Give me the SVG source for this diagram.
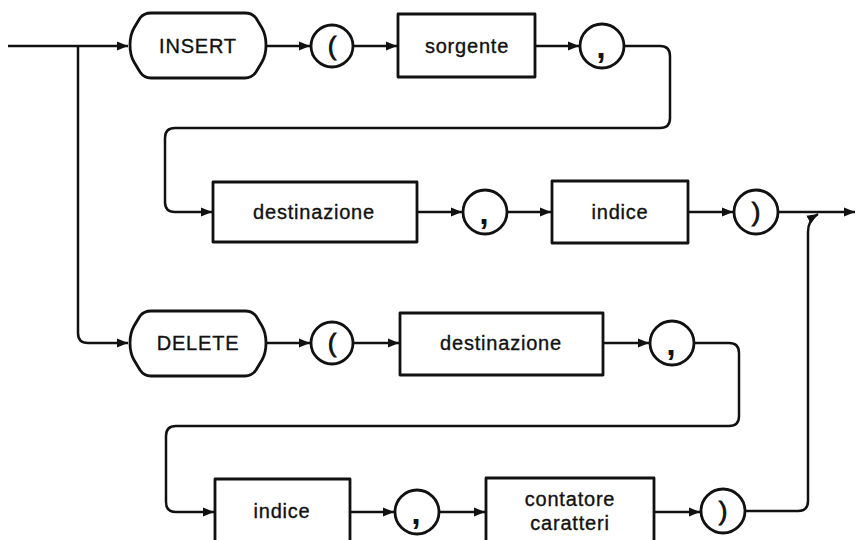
<svg xmlns="http://www.w3.org/2000/svg" width="856" height="540" viewBox="0 0 856 540">
  <style>
    .shape { fill: #fff; stroke: #111; stroke-width: 2.8; stroke-linejoin: round; }
    .wire { fill: none; stroke: #111; stroke-width: 2.5; stroke-linejoin: round; }
    .lbl { font-family: "Liberation Sans", Arial, sans-serif; font-size: 20px; letter-spacing: 0.8px; fill: #111; stroke: #111; stroke-width: 0.35; text-anchor: middle; }
    .sym { font-family: "Liberation Sans", Arial, sans-serif; font-size: 26px; fill: #111; stroke: #111; stroke-width: 0.8; text-anchor: middle; }
    .cm { font-family: "Liberation Sans", Arial, sans-serif; font-size: 34px; font-weight: bold; fill: #111; text-anchor: middle; }
  </style>
  <defs>
    <marker id="arr" markerUnits="userSpaceOnUse" markerWidth="12" markerHeight="10" refX="11" refY="5" orient="auto">
      <path d="M0,0.5 L11,5 L0,9.5 Z" fill="#111"/>
    </marker>
    <path id="pill" d="M21,0 H115 Q122,0 126,5 L132,15 Q136,22 136,32 Q136,42 132,49 L126,59 Q122,65 115,65 H21 Q14,65 10,59 L4,49 Q0,42 0,32 Q0,22 4,15 L10,5 Q14,0 21,0 Z"/>
  </defs>

  <!-- connectors -->
  <g id="connectors">
    <path class="wire" d="M8,46 H128" marker-end="url(#arr)"/>
    <path class="wire" d="M78,46 V333 Q78,343 88,343 H128" marker-end="url(#arr)"/>
    <path class="wire" d="M266,46 H310" marker-end="url(#arr)"/>
    <path class="wire" d="M353,46 H397" marker-end="url(#arr)"/>
    <path class="wire" d="M535,46 H579" marker-end="url(#arr)"/>
    <path class="wire" d="M624,46 H660 Q670,46 670,56 V118 Q670,128 660,128 H175 Q165,128 165,138 V202 Q165,212 175,212 H212" marker-end="url(#arr)"/>
    <path class="wire" d="M417,212 H462" marker-end="url(#arr)"/>
    <path class="wire" d="M507,212 H551" marker-end="url(#arr)"/>
    <path class="wire" d="M688,212 H733" marker-end="url(#arr)"/>
    <path class="wire" d="M778,212 H855" marker-end="url(#arr)"/>
    <path class="wire" d="M745,511 H798 Q808,511 808,501 V232 Q808,220 818,214" marker-end="url(#arr)"/>
    <path class="wire" d="M266,343 H310" marker-end="url(#arr)"/>
    <path class="wire" d="M353,343 H399" marker-end="url(#arr)"/>
    <path class="wire" d="M603,343 H649" marker-end="url(#arr)"/>
    <path class="wire" d="M694,343 H729 Q739,343 739,353 V416 Q739,426 729,426 H176 Q166,426 166,436 V502 Q166,512 176,512 H214" marker-end="url(#arr)"/>
    <path class="wire" d="M350,512 H394" marker-end="url(#arr)"/>
    <path class="wire" d="M439,512 H485" marker-end="url(#arr)"/>
    <path class="wire" d="M654,512 H700" marker-end="url(#arr)"/>
  </g>

  <!-- INSERT branch -->
  <g id="insert">
    <use href="#pill" class="shape" x="130" y="13"/>
    <text class="lbl" x="198" y="53">INSERT</text>
  </g>
  <g id="open1">
    <circle class="shape" cx="332" cy="46" r="21"/>
    <text class="sym" x="332" y="55">(</text>
  </g>
  <g id="sorgente">
    <rect class="shape" x="398" y="14" width="137" height="63"/>
    <text class="lbl" x="467" y="53">sorgente</text>
  </g>
  <g id="comma1">
    <circle class="shape" cx="602" cy="46" r="22"/>
    <text class="cm" x="601" y="58">,</text>
  </g>
  <g id="destinazione1">
    <rect class="shape" x="213" y="182" width="204" height="60"/>
    <text class="lbl" x="314" y="219">destinazione</text>
  </g>
  <g id="comma2">
    <circle class="shape" cx="485" cy="212" r="22"/>
    <text class="cm" x="484" y="224">,</text>
  </g>
  <g id="indice1">
    <rect class="shape" x="552" y="181" width="136" height="62"/>
    <text class="lbl" x="620" y="219">indice</text>
  </g>
  <g id="close1">
    <circle class="shape" cx="756" cy="212" r="22"/>
    <text class="sym" x="756" y="221">)</text>
  </g>

  <!-- DELETE branch -->
  <g id="delete">
    <use href="#pill" class="shape" x="130" y="311"/>
    <text class="lbl" x="198" y="350">DELETE</text>
  </g>
  <g id="open2">
    <circle class="shape" cx="332" cy="343" r="21"/>
    <text class="sym" x="332" y="352">(</text>
  </g>
  <g id="destinazione2">
    <rect class="shape" x="400" y="313" width="203" height="62"/>
    <text class="lbl" x="501" y="350">destinazione</text>
  </g>
  <g id="comma3">
    <circle class="shape" cx="672" cy="343" r="22"/>
    <text class="cm" x="671" y="355">,</text>
  </g>
  <g id="indice2">
    <rect class="shape" x="215" y="479" width="135" height="70"/>
    <text class="lbl" x="282" y="518">indice</text>
  </g>
  <g id="comma4">
    <circle class="shape" cx="417" cy="512" r="22"/>
    <text class="cm" x="416" y="524">,</text>
  </g>
  <g id="contatore">
    <rect class="shape" x="486" y="478" width="168" height="70"/>
    <text class="lbl" x="570" y="506">contatore</text>
    <text class="lbl" x="570" y="530">caratteri</text>
  </g>
  <g id="close2">
    <circle class="shape" cx="723" cy="511" r="22"/>
    <text class="sym" x="723" y="520">)</text>
  </g>
</svg>
